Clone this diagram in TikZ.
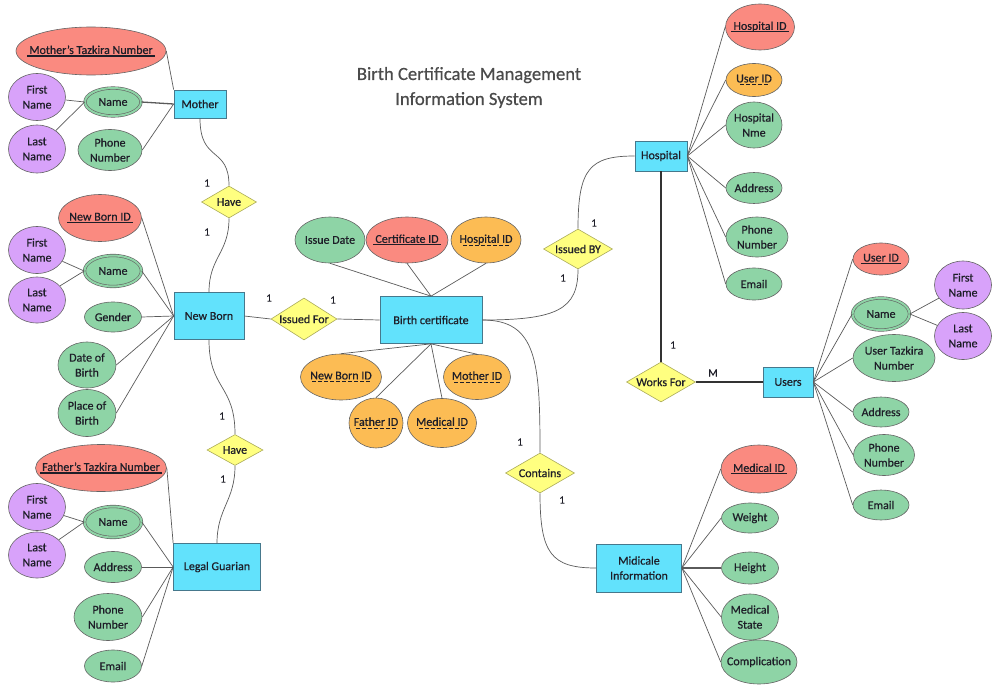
\documentclass[tikz,border=0pt]{standalone}
\usepackage{fontspec}
\setmainfont{Carlito}[UprightFeatures={FakeBold=0.6}]
\usetikzlibrary{shapes.geometric}

\definecolor{entfill}{RGB}{98,226,252}
\definecolor{entline}{RGB}{70,120,140}
\definecolor{attgreen}{RGB}{142,212,166}
\definecolor{attline}{RGB}{100,100,100}
\definecolor{partpurple}{RGB}{216,162,250}
\definecolor{keyred}{RGB}{250,138,128}
\definecolor{fkorange}{RGB}{252,188,84}
\definecolor{relyellow}{RGB}{255,255,128}
\definecolor{relline}{RGB}{170,170,90}
\definecolor{connline}{RGB}{90,90,90}
\definecolor{txt}{RGB}{30,30,40}
\definecolor{titlegray}{RGB}{75,75,75}

% key attribute: solid bar under the text
\newcommand\pkey[1]{\sbox0{#1}\rlap{\kern-2pt\rule[-2.6pt]{\dimexpr\wd0+4pt\relax}{1.4pt}}\usebox0}
% foreign key: dashed bar under the text
\newcommand\fkey[1]{\sbox0{#1}\rlap{\hbox to\wd0{\cleaders\hbox to 6pt{\hss\rule[-2.8pt]{4pt}{0.8pt}\hss}\hfill}}\usebox0}

\tikzset{
  every node/.style={font=\fontsize{12}{15}\selectfont, text=txt},
  sz/.style 2 args={minimum width=#1, minimum height=#2},
  entity/.style={rectangle, draw=entline, fill=entfill, line width=0.7pt, inner sep=0pt, align=center},
  attr/.style={ellipse, draw=attline, fill=attgreen, line width=0.6pt, inner sep=0pt, inner xsep=-14pt, align=center},
  part/.style={attr, fill=partpurple},
  keyattr/.style={attr, fill=keyred},
  fkattr/.style={attr, fill=fkorange},
  multi/.style={attr, double=attgreen, double distance=2pt},
  rel/.style={diamond, aspect=1.7, draw=relline, fill=relyellow, line width=0.6pt, inner sep=0pt, inner xsep=-14pt},
  conn/.style={draw=connline, line width=0.7pt},
  strong/.style={draw=black!80, line width=1.2pt},
  card/.style={font=\fontsize{11}{13}\selectfont},
}

\begin{document}
\begin{tikzpicture}[x=1pt, y=-1pt]
  \useasboundingbox (0,0) rectangle (993,685);

  \node[font=\fontsize{18.6}{25}\selectfont, text=titlegray, align=center] (title) at (469,87.5)
    {Birth Certificate Management\\Information System};

  % Mother
  \node[entity, sz={52}{28}] (mother) at (200,104) {Mother};
  \node[keyattr, sz={150}{48}] (mtaz) at (91,51) {\pkey{Mother's Tazkira Number}};
  \node[multi, sz={56}{28}] (mname) at (113,102) {Name};
  \node[part, sz={57}{47}] (mfirst) at (37,97) {First\\Name};
  \node[part, sz={57}{48}] (mlast) at (37,149) {Last\\Name};
  \node[attr, sz={64}{41}] (mphone) at (110,150) {Phone\\Number};
  \node[rel, sz={55}{32}] (haveA) at (229,202) {Have};

  % New Born
  \node[entity, sz={70}{47}] (newborn) at (209,316) {New Born};
  \node[keyattr, sz={83}{47}] (nbid) at (100,218) {\pkey{New Born ID}};
  \node[multi, sz={57}{31}] (nbname) at (113,271) {Name};
  \node[part, sz={57}{47}] (nbfirst) at (37,250) {First\\Name};
  \node[part, sz={57}{46}] (nblast) at (37,300) {Last\\Name};
  \node[attr, sz={57}{30}] (nbgender) at (113,317) {Gender};
  \node[attr, sz={58}{46}] (nbdob) at (87,365) {Date of\\Birth};
  \node[attr, sz={58}{47}] (nbpob) at (87,413) {Place of\\Birth};
  \node[rel, sz={56}{31}] (haveB) at (235,450) {Have};

  % Legal guardian
  \node[entity, sz={87}{47}] (guardian) at (217,567) {Legal Guarian};
  \node[keyattr, sz={131}{47}] (ftaz) at (101,468) {\pkey{Father's Tazkira Number}};
  \node[part, sz={57}{47}] (gfirst) at (37,507) {First\\Name};
  \node[part, sz={57}{46}] (glast) at (37,555) {Last\\Name};
  \node[multi, sz={57}{31}] (gname) at (113,522) {Name};
  \node[attr, sz={57}{31}] (gaddr) at (113,567) {Address};
  \node[attr, sz={68}{47}] (gphone) at (108,617) {Phone\\Number};
  \node[attr, sz={57}{32}] (gemail) at (113,666) {Email};

  % Birth certificate
  \node[rel, sz={66}{42}] (issuedfor) at (304,319) {Issued For};
  \node[entity, sz={102}{47}] (cert) at (431,320) {Birth certificate};
  \node[attr, sz={70}{46}] (cdate) at (330,240) {Issue Date};
  \node[keyattr, sz={82}{46}] (cid) at (407,240) {\pkey{Certificate ID}};
  \node[fkattr, sz={70}{46}] (chosp) at (486,240) {\fkey{Hospital ID}};
  \node[fkattr, sz={81}{46}] (cnb) at (341,377) {\fkey{New Born ID}};
  \node[fkattr, sz={67}{45}] (cmother) at (477,377) {\fkey{Mother ID}};
  \node[fkattr, sz={54}{50}] (cfather) at (376,423) {\fkey{Father ID}};
  \node[fkattr, sz={69}{49}] (cmed) at (442,423) {\fkey{Medical ID}};

  % Hospital
  \node[entity, sz={52}{30}] (hospital) at (661,156) {Hospital};
  \node[keyattr, sz={69}{46}] (hid) at (760,27) {\pkey{Hospital ID}};
  \node[fkattr, sz={56}{33}] (huser) at (754,80) {\fkey{User ID}};
  \node[attr, sz={56}{46}] (hname) at (754,125) {Hospital\\Nme};
  \node[attr, sz={56}{31}] (haddr) at (754,188) {Address};
  \node[attr, sz={62}{40}] (hphone) at (757,237) {Phone\\Number};
  \node[attr, sz={56}{32}] (hemail) at (754,284) {Email};
  \node[rel, sz={69}{40}] (issuedby) at (578,249) {Issued BY};

  % Users
  \node[rel, sz={69}{40}] (worksfor) at (661,382) {Works For};
  \node[entity, sz={50}{30}] (users) at (788,382) {Users};
  \node[keyattr, sz={56}{32}] (uid) at (881,259) {\pkey{User ID}};
  \node[multi, sz={57}{32}] (uname) at (881,314) {Name};
  \node[part, sz={57}{48}] (ufirst) at (963,285) {First\\Name};
  \node[part, sz={57}{47}] (ulast) at (963,336) {Last\\Name};
  \node[attr, sz={82}{47}] (utaz) at (894,358) {User Tazkira\\Number};
  \node[attr, sz={56}{30}] (uaddr) at (881,412) {Address};
  \node[attr, sz={61}{41}] (uphone) at (884,455) {Phone\\Number};
  \node[attr, sz={56}{30}] (uemail) at (881,505) {Email};

  % Medical information
  \node[rel, sz={69}{40}] (contains) at (540,473) {Contains};
  \node[entity, sz={85}{48}] (medinfo) at (639,568) {Midicale\\Information};
  \node[keyattr, sz={76}{48}] (mid) at (759,469) {\pkey{Medical ID}};
  \node[attr, sz={57}{30}] (mweight) at (750,518) {Weight};
  \node[attr, sz={57}{32}] (mheight) at (750,568) {Height};
  \node[attr, sz={57}{46}] (mstate) at (750,617) {Medical\\State};
  \node[attr, sz={76}{44}] (mcomp) at (759,662) {Complication};

  % cardinalities
  \node[card] (c1) at (207,183) {1};
  \node[card] (c2) at (207,232) {1};
  \node[card] (c3) at (269,298) {1};
  \node[card] (c4) at (333,300) {1};
  \node[card] (c5) at (222,416) {1};
  \node[card] (c6) at (223,479) {1};
  \node[card] (c7) at (594,223) {1};
  \node[card] (c8) at (563,278) {1};
  \node[card] (c9) at (520,442) {1};
  \node[card] (c10) at (562,500) {1};
  \node[card] (c11) at (673,345) {1};
  \node[card] (c12) at (713,373) {M};

  % attribute links
  \draw[conn] (mtaz.east) -- (mother.north west);
  \draw[conn, line width=1.3pt] (mname.east) -- (mother.west);
  \draw[conn] (mphone.east) -- (mother.west);
  \draw[conn] (mfirst) -- (mname.west);
  \draw[conn] (mlast) -- (mname.west);

  \foreach \a in {nbid,nbname,nbgender,nbdob,nbpob}
    \draw[conn] (\a.east) -- (newborn.west);
  \draw[conn] (nbfirst) -- (nbname.west);
  \draw[conn] (nblast) -- (nbname.west);

  \draw[conn] (ftaz.east) -- (guardian.north west);
  \foreach \a in {gname,gaddr,gphone,gemail}
    \draw[conn] (\a.east) -- (guardian.west);
  \draw[conn] (gfirst) -- (gname.west);
  \draw[conn] (glast) -- (gname.west);

  \foreach \a in {cdate,cid,chosp}
    \draw[conn] (\a.south) -- (cert.north);
  \foreach \a in {cnb,cfather,cmed,cmother}
    \draw[conn] (\a.north) -- (cert.south);

  \foreach \a in {hid,huser,hname,haddr,hphone,hemail}
    \draw[conn] (hospital.east) -- (\a.west);

  \foreach \a in {uid,uname,utaz,uaddr,uphone,uemail}
    \draw[conn] (users.east) -- (\a.west);
  \draw[conn] (uname.east) -- (ufirst);
  \draw[conn] (uname.east) -- (ulast);

  \foreach \a in {mid,mweight,mstate,mcomp}
    \draw[conn] (medinfo.east) -- (\a.west);
  \draw[conn, line width=1.3pt] (medinfo.east) -- (mheight.west);

  % relationship links
  \draw[conn] (mother.south) .. controls +(0,45) and +(0,-40) .. (haveA.north);
  \draw[conn] (haveA.south) .. controls +(0,35) and +(0,-35) .. (newborn.north);
  \draw[conn] (newborn.south) .. controls +(0,50) and +(0,-50) .. (haveB.north);
  \draw[conn] (haveB.south) .. controls +(0,35) and +(0,-35) .. (guardian.north);
  \draw[conn] (newborn.east) -- (issuedfor.west);
  \draw[conn] (issuedfor.east) -- (cert.west);
  \draw[conn] (cert.east) .. controls +(75,0) and +(0,40) .. (issuedby.south);
  \draw[conn] (issuedby.north) .. controls +(0,-60) and +(-45,0) .. (hospital.west);
  \draw[conn] (cert.east) .. controls +(55,0) and +(0,-90) .. (contains.north);
  \draw[conn] (contains.south) .. controls +(0,60) and +(-45,0) .. (medinfo.west);
  \draw[strong] (hospital.south) -- (worksfor.north);
  \draw[strong] (worksfor.east) -- (users.west);
\end{tikzpicture}
\end{document}
